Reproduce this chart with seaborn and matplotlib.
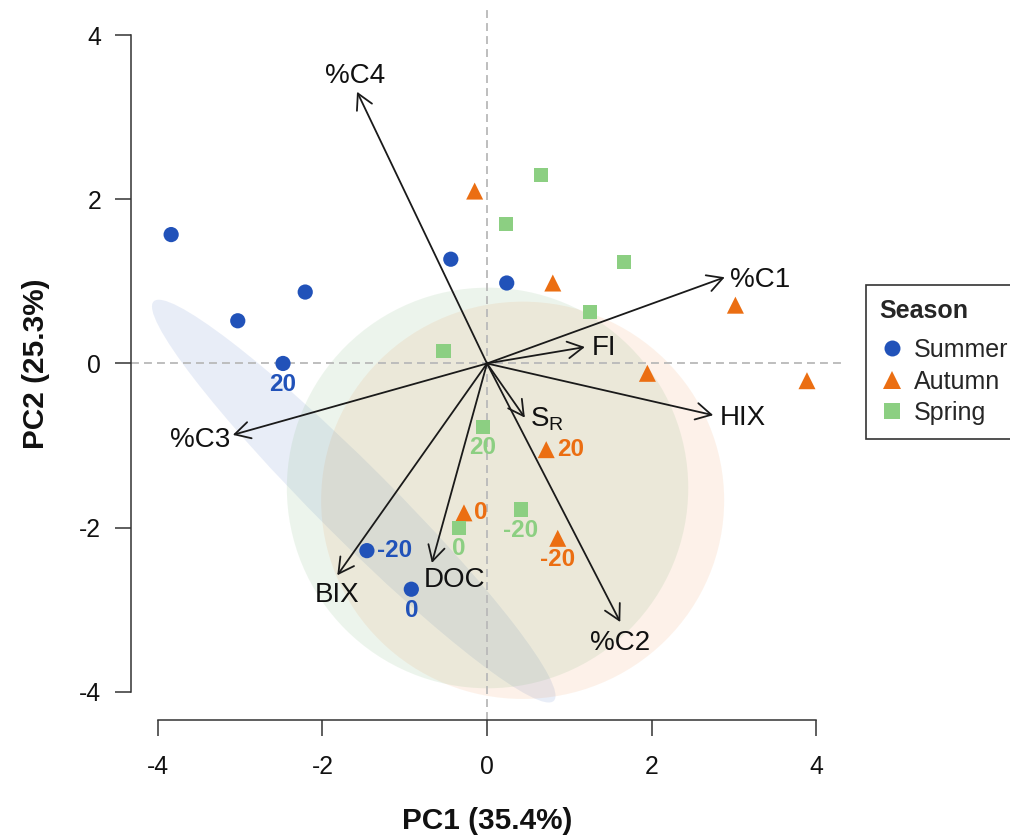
import numpy as np
import pandas as pd
import matplotlib
matplotlib.use("Agg")
import matplotlib.pyplot as plt
from matplotlib.patches import Ellipse
from matplotlib.lines import Line2D
import seaborn as sns

# ---- sample scores on PC1 / PC2 ----
season = (["Summer"] * 8) + (["Autumn"] * 8) + (["Spring"] * 8)
pc1 = [-3.84, -3.03, -2.21, -2.48, -0.44, 0.24, -1.46, -0.92,
       -0.15, 0.80, 3.02, 1.95, 3.89, 0.72, -0.28, 0.86,
       0.66, 0.23, 1.67, 1.25, -0.53, -0.05, 0.41, -0.34]
pc2 = [1.57, 0.52, 0.87, 0.00, 1.27, 0.98, -2.28, -2.75,
       2.10, 0.98, 0.71, -0.12, -0.21, -1.05, -1.82, -2.13,
       2.30, 1.70, 1.24, 0.63, 0.15, -0.77, -1.78, -2.00]
# depth tags written next to the labelled samples
tag = ["", "", "", "20", "", "", "-20", "0",
       "", "", "", "", "", "20", "0", "-20",
       "", "", "", "", "", "20", "-20", "0"]

# ---- variable loadings (arrow tips) ----
variables = ["%C1", "%C2", "%C3", "%C4", "FI", "HIX", "BIX", "DOC", "SR"]
load1 = [2.89, 1.62, -3.09, -1.58, 1.19, 2.75, -1.82, -0.67, 0.46]
load2 = [1.05, -3.15, -0.87, 3.31, 0.20, -0.63, -2.58, -2.43, -0.66]

# ---- group ellipses: semi-axes and rotation ----
ell_seasons = ["Summer", "Autumn", "Spring"]
ell_a = [3.44, 2.45, 2.44]
ell_b = [0.45, 2.42, 2.44]
ell_angle = [-45, 0, 0]

order = ["Summer", "Autumn", "Spring"]
palette = {"Summer": "#2152b9", "Autumn": "#eb6e12", "Spring": "#8ccf82"}
fill = {"Summer": ("#2152b9", 0.10), "Autumn": ("#eb6e12", 0.09),
        "Spring": ("#7fb77e", 0.14)}
markers = {"Summer": "o", "Autumn": "^", "Spring": "s"}
sizes = {"Summer": 120, "Autumn": 150, "Spring": 105}
legend_ms = {"Summer": 11.5, "Autumn": 13.5, "Spring": 11.2}

sns.set_theme(style="ticks")
plt.rcParams["font.family"] = ["Liberation Sans", "DejaVu Sans"]
plt.rcParams["axes.unicode_minus"] = False
plt.rcParams["mathtext.default"] = "regular"

df = pd.DataFrame({"PC1": pc1, "PC2": pc2, "Season": season, "tag": tag})

fig = plt.figure(figsize=(10.1, 8.36), dpi=100)
ax = fig.add_axes([131 / 1010, 116 / 836, 712 / 1010, 712 / 836])

# ellipses centred on the mean of each season's labelled samples
for s, a, b, ang in zip(ell_seasons, ell_a, ell_b, ell_angle):
    sub = df[(df.Season == s) & (df.tag != "")]
    c, al = fill[s]
    ax.add_patch(Ellipse((sub.PC1.mean(), sub.PC2.mean()), 2 * a, 2 * b,
                         angle=ang, facecolor=c, alpha=al, edgecolor="none",
                         zorder=0.5))

ax.axhline(0, color="#b9b9b9", lw=1.3, ls=(0, (4.4, 2.8)), zorder=1)
ax.axvline(0, color="#b9b9b9", lw=1.3, ls=(0, (4.4, 2.8)), zorder=1)

# loading arrows and their labels
label_style = {
    "%C1": ((4, -2), "left", "center"),
    "%C2": ((0, -15), "center", "center"),
    "%C3": ((-2, -3.5), "right", "center"),
    "%C4": ((-1.5, 11), "center", "center"),
    "FI": ((5, -1), "left", "center"),
    "HIX": ((5, -2), "left", "center"),
    "BIX": ((-0.5, -14.5), "center", "center"),
    "DOC": ((-6, -12.5), "left", "center"),
    "SR": ((3.5, -6.5), "left", "baseline"),
}
for v, x, y in zip(variables, load1, load2):
    ax.annotate("", xy=(x, y), xytext=(0, 0),
                arrowprops=dict(arrowstyle="->,head_length=0.55,head_width=0.3",
                                color="#1a1a1a", lw=1.3, shrinkA=0, shrinkB=0,
                                mutation_scale=20),
                zorder=3)
    (dx, dy), ha, va = label_style[v]
    txt = r"S$_\mathregular{R}$" if v == "SR" else v
    ax.annotate(txt, xy=(x, y), xytext=(dx, dy), textcoords="offset points",
                ha=ha, va=va, fontsize=20, color="#111111", zorder=5)

sns.scatterplot(data=df, x="PC1", y="PC2", hue="Season", style="Season",
                size="Season", palette=palette, markers=markers, sizes=sizes,
                hue_order=order, style_order=order, size_order=order,
                linewidth=0, legend=False, ax=ax, zorder=4)

# depth tags beside the labelled samples
tag_side = {("Summer", "20"): "below", ("Summer", "-20"): "right",
            ("Summer", "0"): "below", ("Autumn", "20"): "right",
            ("Autumn", "0"): "right", ("Autumn", "-20"): "below",
            ("Spring", "20"): "below", ("Spring", "-20"): "below",
            ("Spring", "0"): "below"}
for _, r in df[df.tag != ""].iterrows():
    side = tag_side[(r.Season, r.tag)]
    if side == "below":
        off, ha = (0, -15), "center"
    else:
        off, ha = (7.5, 0), "left"
    ax.annotate(r.tag, xy=(r.PC1, r.PC2), xytext=off, textcoords="offset points",
                ha=ha, va="center", fontsize=17.5, fontweight="bold",
                color=palette[r.Season], zorder=5)

ax.set_xlim(-4.328, 4.328)
ax.set_ylim(-4.343, 4.33)
ticks = [-4, -2, 0, 2, 4]
ax.set_xticks(ticks)
ax.set_yticks(ticks)
ax.set_xticklabels([str(t) for t in ticks])
ax.set_yticklabels([str(t) for t in ticks])
sns.despine(ax=ax)
for side in ("left", "bottom"):
    ax.spines[side].set_bounds(-4, 4)
    ax.spines[side].set_linewidth(1.1)
    ax.spines[side].set_color("#333333")
ax.tick_params(direction="out", length=11.5, width=1.1, color="#333333",
               labelsize=17.8, labelcolor="#111111")
ax.tick_params(axis="x", pad=14)
ax.tick_params(axis="y", pad=10)
ax.set_xlabel("PC1 (35.4%)", fontsize=21.4, fontweight="bold", labelpad=20,
              color="#111111")
ax.set_ylabel("PC2 (25.3%)", fontsize=21.4, fontweight="bold", labelpad=21,
              color="#111111")
ax.patch.set_alpha(0)

handles = [Line2D([], [], ls="none", marker=markers[s], color=palette[s],
                  markersize=legend_ms[s], markeredgewidth=0) for s in order]
leg = fig.legend(handles, order, title="Season", loc="upper left",
                 bbox_to_anchor=(866 / 1010, 1 - 285 / 836), frameon=True,
                 fancybox=False, edgecolor="black", fontsize=18,
                 title_fontproperties={"weight": "bold", "size": 18},
                 alignment="left", borderaxespad=0, borderpad=0.55,
                 labelspacing=0.3, handlelength=1.0, handletextpad=0.35)
leg.get_frame().set_linewidth(1.2)
# extra gap between the legend title and its entries
leg._legend_box.sep = 11

fig.savefig("out.png", dpi=100)
